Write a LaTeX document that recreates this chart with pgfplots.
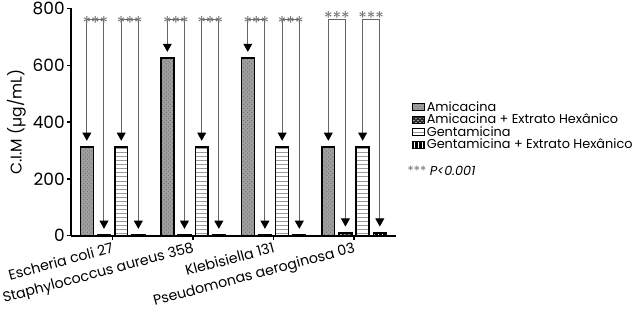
\documentclass[border=0pt]{standalone}
\usepackage{pgfplots}
\pgfplotsset{compat=1.18}
\usepackage{pgfplotstable}
\usepackage{fontspec}
\setmainfont{Poppins}
\usetikzlibrary{patterns,arrows.meta}

\pgfplotstableread{
g amic amicext gent gentext
0 312.5 2.44 312.5 2.44
1 625 2.44 312.5 2.44
2 625 2.44 312.5 2.44
3 312.5 9.76 312.5 9.76
}\datatable

\pgfplotsset{
  mylegimg/.style={legend image code/.code={\draw[##1, line width=0.8pt] (0pt,-2.6pt) rectangle (9pt,2.6pt);}},
}
\tikzset{
  stars/.style={font=\fontsize{13}{14}\selectfont, text=black!55, inner sep=0pt},
  brk/.style={line width=0.75pt, draw=black!60,
  {Triangle[length=6pt,width=6.5pt,color=black]}-{Triangle[length=6pt,width=6.5pt,color=black]}},
}

\begin{document}
\begin{tikzpicture}
\begin{axis}[
  scale only axis, width=240pt, height=168pt,
  xmin=-0.517, xmax=3.517, ymin=0, ymax=800,
  axis x line*=bottom, axis y line*=left,
  axis line style={line width=1.5pt},
  ytick={0,200,400,600,800},
  xtick={0,1,2,3},
  xticklabels={Escheria coli 27, Staphylococcus aureus 358, Klebisiella 131, Pseudomonas aeroginosa 03},
  x tick label style={rotate=15, anchor=north east, font=\fontsize{10.5}{12}\selectfont, inner sep=1pt},
  yticklabel style={font=\fontsize{12.5}{14}\selectfont, inner sep=1.5pt},
  /pgf/number format/assume math mode=true,
  tick align=outside, major tick length=3pt,
  tick style={black, line width=1pt},
  ylabel={C.I.M (µg/mL)},
  ylabel style={font=\fontsize{11.5}{13}\selectfont},
  clip=false,
  legend style={at={(1.0375,0.61)}, anchor=north west, draw=none, fill=none,
    font=\fontsize{9.5}{10}\selectfont, row sep=-1.5pt,
    nodes={inner sep=1pt}},
  legend cell align=left,
]
\addplot[ybar, bar width=0.16, bar shift=-0.32, draw=black, line width=1.1pt,
  fill=gray!75, postaction={pattern=crosshatch dots, pattern color=black!55}, mylegimg]
  table[x=g, y=amic]{\datatable};
\addlegendentry{Amicacina}
\addplot[ybar, bar width=0.16, bar shift=-0.107, draw=black, line width=1.1pt,
  fill=black!85, postaction={pattern=crosshatch dots, pattern color=white}, mylegimg]
  table[x=g, y=amicext]{\datatable};
\addlegendentry{Amicacina + Extrato Hexânico}
\addplot[ybar, bar width=0.16, bar shift=0.107, draw=black, line width=1.1pt,
  fill=white, postaction={pattern=horizontal lines, pattern color=gray!80}, mylegimg]
  table[x=g, y=gent]{\datatable};
\addlegendentry{Gentamicina}
\addplot[ybar, bar width=0.16, bar shift=0.32, draw=black, line width=1.1pt,
  fill=black, postaction={pattern=vertical lines, pattern color=white}, mylegimg]
  table[x=g, y=gentext]{\datatable};
\addlegendentry{Gentamicina + Extrato Hexânico}

% significance brackets
% group 0
\draw[brk] (axis cs:-0.32,334) -- (axis cs:-0.32,761) -- (axis cs:-0.107,761) -- (axis cs:-0.107,24);
\draw[brk] (axis cs:0.107,334) -- (axis cs:0.107,761) -- (axis cs:0.32,761) -- (axis cs:0.32,24);
% group 1
\draw[brk] (axis cs:0.68,647) -- (axis cs:0.68,761) -- (axis cs:0.893,761) -- (axis cs:0.893,24);
\draw[brk] (axis cs:1.107,334) -- (axis cs:1.107,761) -- (axis cs:1.32,761) -- (axis cs:1.32,24);
% group 2
\draw[brk] (axis cs:1.68,647) -- (axis cs:1.68,761) -- (axis cs:1.893,761) -- (axis cs:1.893,24);
\draw[brk] (axis cs:2.107,334) -- (axis cs:2.107,761) -- (axis cs:2.32,761) -- (axis cs:2.32,24);
% group 3
\draw[brk] (axis cs:2.68,334) -- (axis cs:2.68,761) -- (axis cs:2.893,761) -- (axis cs:2.893,32);
\draw[brk] (axis cs:3.107,334) -- (axis cs:3.107,761) -- (axis cs:3.32,761) -- (axis cs:3.32,32);

\node[stars] at (axis cs:-0.2135,748) {***};
\node[stars] at (axis cs:0.2135,748) {***};
\node[stars] at (axis cs:0.7865,748) {***};
\node[stars] at (axis cs:1.2135,748) {***};
\node[stars] at (axis cs:1.7865,748) {***};
\node[stars] at (axis cs:2.2135,748) {***};
\node[stars] at (axis cs:2.7865,767) {***};
\node[stars] at (axis cs:3.2135,767) {***};
\node[anchor=west, inner sep=0pt, font=\fontsize{9.5}{11}\selectfont] at (axis description cs:1.036,0.285)
  {\textcolor{black!55}{***} \itshape P<0.001};
\end{axis}
\end{tikzpicture}
\end{document}
